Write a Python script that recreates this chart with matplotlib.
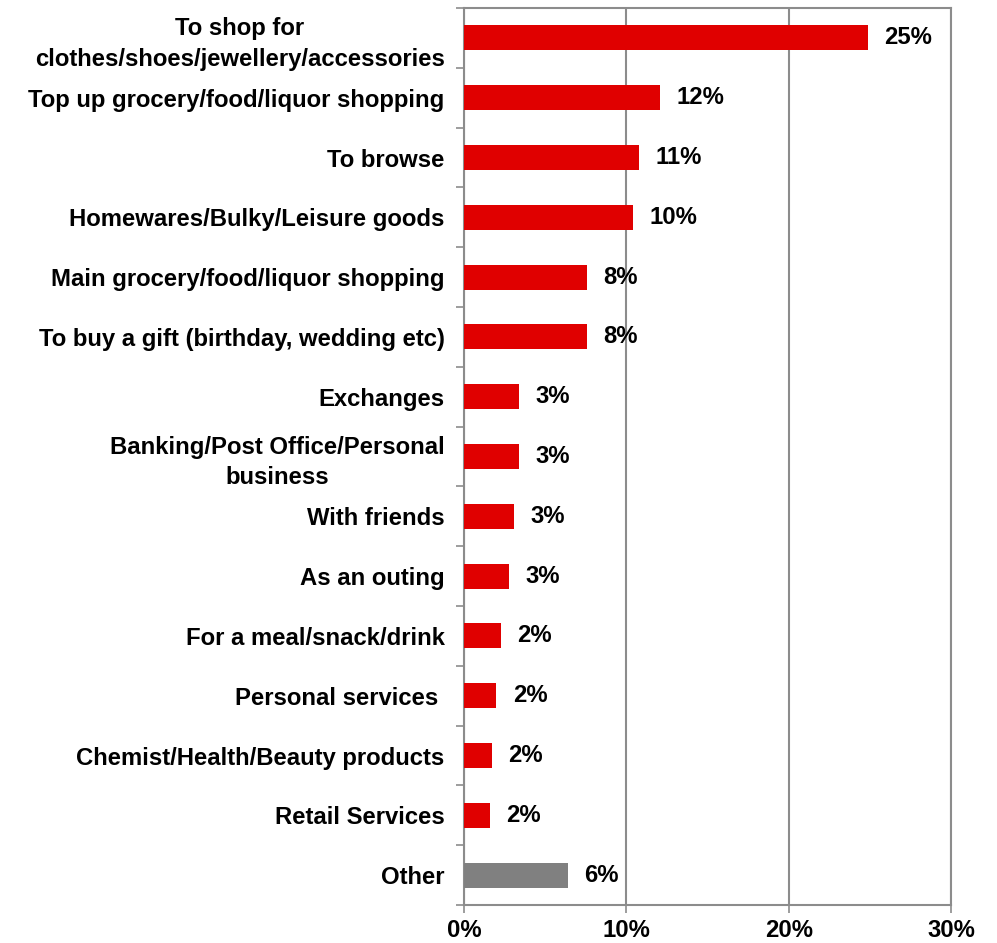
import numpy as np
import matplotlib.pyplot as plt
from matplotlib.ticker import FixedLocator

plt.rcParams['font.family'] = ['Liberation Sans', 'DejaVu Sans']
plt.rcParams['font.weight'] = 'bold'

reasons = [
    'To shop for\nclothes/shoes/jewellery/accessories',
    'Top up grocery/food/liquor shopping',
    'To browse',
    'Homewares/Bulky/Leisure goods',
    'Main grocery/food/liquor shopping',
    'To buy a gift (birthday, wedding etc)',
    'Exchanges',
    'Banking/Post Office/Personal\nbusiness',
    'With friends',
    'As an outing',
    'For a meal/snack/drink',
    'Personal services ',
    'Chemist/Health/Beauty products',
    'Retail Services',
    'Other',
]
share = [24.9, 12.1, 10.8, 10.4, 7.6, 7.6, 3.4, 3.4, 3.1, 2.8, 2.3, 2.0, 1.7, 1.6, 6.4]
xticks = [0, 10, 20, 30]

red = '#E00000'
grey = '#808080'
colors = [grey if r == 'Other' else red for r in reasons]
fs = 17.2

fig = plt.figure(figsize=(9.97, 9.43), dpi=100)
ax = fig.add_axes([0.4654, 0.0403, 0.4885, 0.9512])

y = np.arange(len(reasons))
ax.barh(y, share, height=0.42, color=colors, zorder=3)
for yi, v in zip(y, share):
    ax.text(v + 1.0, yi, f'{v:.0f}%', va='center', ha='left',
            fontsize=fs, fontweight='bold')

ax.set_xlim(0, 30)
ax.set_ylim(len(reasons) - 0.5, -0.5)
ax.set_xticks(xticks)
ax.set_xticklabels([f'{t}%' for t in xticks], fontsize=fs, fontweight='bold')
ax.set_yticks(y)
ax.set_yticklabels(reasons, fontsize=fs, fontweight='bold')
ax.yaxis.set_minor_locator(FixedLocator(np.arange(-0.5, len(reasons), 1)))

ax.tick_params(axis='y', which='major', length=0, pad=14)
ax.tick_params(axis='y', which='minor', length=6, width=1.2, color='#8c8c8c', direction='out')
ax.tick_params(axis='x', length=6, width=1.2, color='#8c8c8c', pad=4)

# two-line labels are centred on each other
for lab in ax.get_yticklabels():
    lab.set_multialignment('center')
    lab.set_linespacing(1.4)

ax.grid(axis='x', color='#8c8c8c', linewidth=1.5, zorder=0)
for s in ax.spines.values():
    s.set_color('#8c8c8c')
    s.set_linewidth(1.5)

fig.savefig('out.png', dpi=100)
